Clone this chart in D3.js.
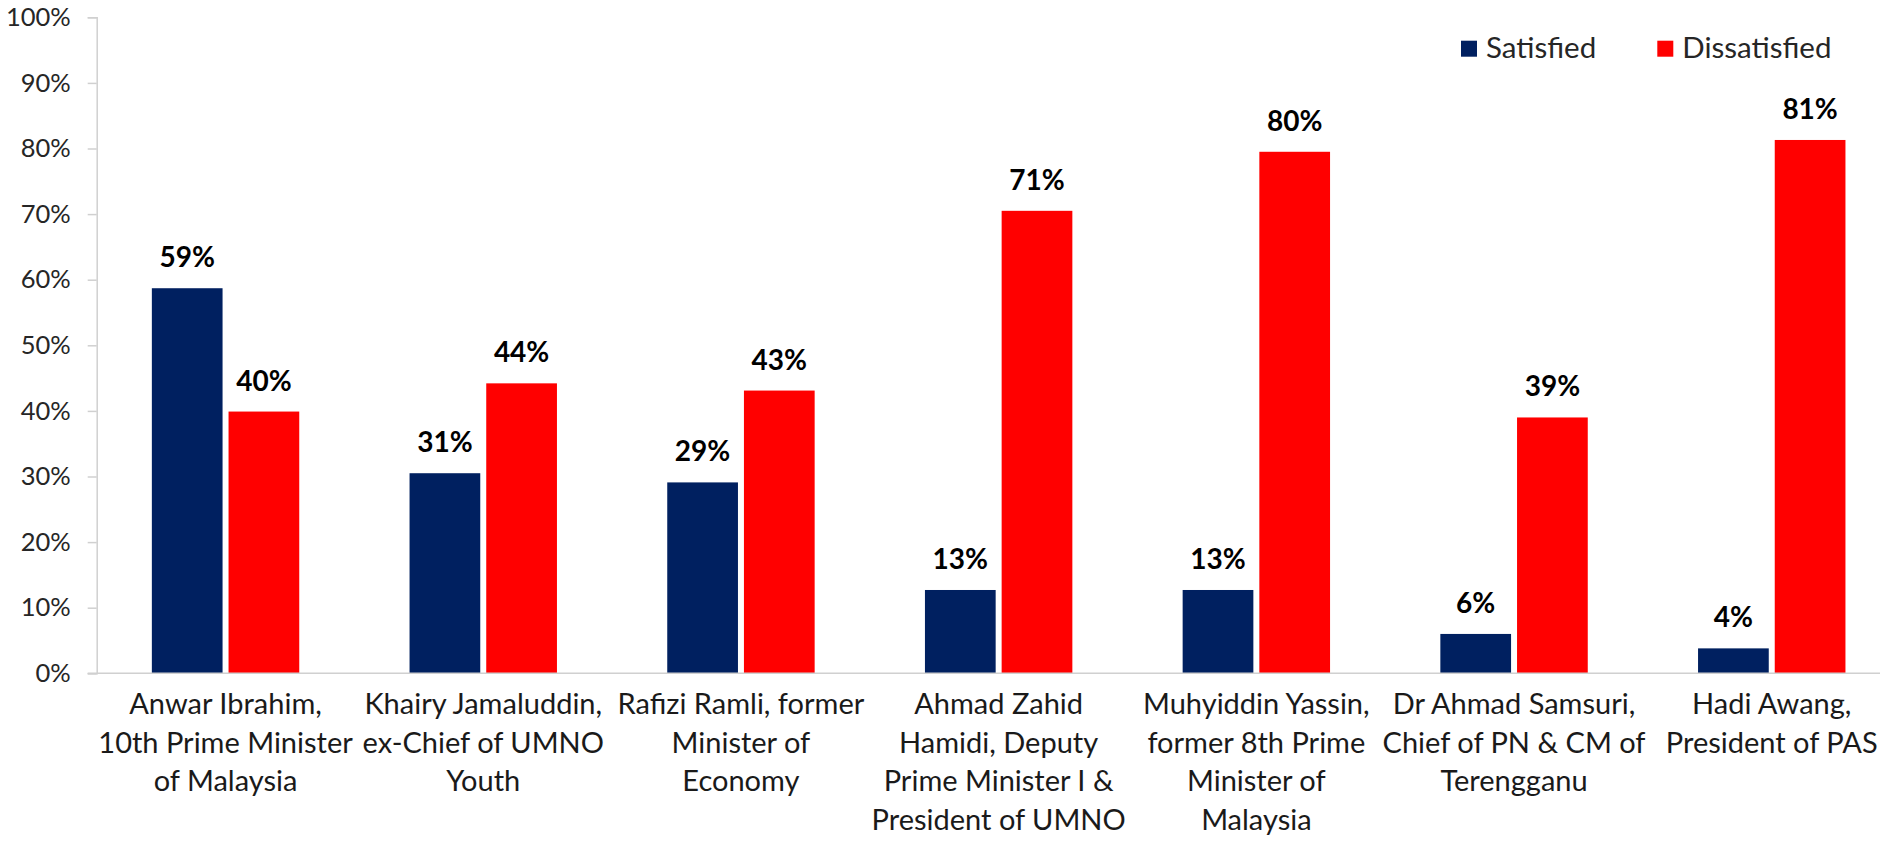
<!DOCTYPE html>
<html>
<head>
<meta charset="utf-8">
<script src="https://cdn.jsdelivr.net/npm/d3@7"></script>
<style>
  html, body { margin: 0; padding: 0; background: #ffffff; }
  svg { display: block; font-family: Lato, "Open Sans", sans-serif; }
</style>
</head>
<body>
<svg id="chart" width="1880" height="843"></svg>
<script>
// ---- data ----
const categories = [
  ["Anwar Ibrahim,", "10th Prime Minister", "of Malaysia"],
  ["Khairy Jamaluddin,", "ex-Chief of UMNO", "Youth"],
  ["Rafizi Ramli, former", "Minister of", "Economy"],
  ["Ahmad Zahid", "Hamidi, Deputy", "Prime Minister I &", "President of UMNO"],
  ["Muhyiddin Yassin,", "former 8th Prime", "Minister of", "Malaysia"],
  ["Dr Ahmad Samsuri,", "Chief of PN & CM of", "Terengganu"],
  ["Hadi Awang,", "President of PAS"]
];
const seriesNames = ["Satisfied", "Dissatisfied"];
const satisfied    = [58.7, 30.5, 29.1, 12.7, 12.7, 6.0, 3.8];
const dissatisfied = [39.9, 44.2, 43.1, 70.5, 79.5, 39.0, 81.3];
const yTicks = [0, 10, 20, 30, 40, 50, 60, 70, 80, 90, 100];
const colors = ["#002060", "#FF0000"];

// ---- layout ----
const svg = d3.select("#chart");
const plotLeft = 96.7, plotTop = 17.3, plotBottom = 673.3, plotRight = 1900.6;

const x0 = d3.scaleBand().domain(d3.range(categories.length))
  .range([plotLeft, plotRight]).paddingInner(0.428).paddingOuter(0.214);
const x1 = d3.scaleBand().domain(d3.range(seriesNames.length))
  .range([0, x0.bandwidth()]).paddingInner(0.078).paddingOuter(0);
const y = d3.scaleLinear().domain([0, 100]).range([plotBottom, plotTop]);

// y axis
const yAxis = svg.append("g").attr("transform", `translate(${plotLeft},0)`)
  .call(d3.axisLeft(y).tickValues(yTicks).tickFormat(d => d + "%").tickSize(9).tickPadding(17));
yAxis.select(".domain").attr("stroke", "#d0d0d0").attr("stroke-width", 1.5);
yAxis.selectAll(".tick line").attr("stroke", "#d0d0d0").attr("stroke-width", 1.5);
yAxis.selectAll(".tick text").attr("font-size", 25.5).attr("fill", "#262626")
  .attr("font-family", "Lato, sans-serif").attr("font-weight", 400);

// bars
const data = categories.map((c, i) => ({ i, vals: [satisfied[i], dissatisfied[i]] }));
const groups = svg.append("g").selectAll("g").data(data).join("g")
  .attr("transform", d => `translate(${x0(d.i)},0)`);
groups.selectAll("rect").data(d => d.vals.map((v, k) => ({ v, k }))).join("rect")
  .attr("x", d => x1(d.k)).attr("width", x1.bandwidth())
  .attr("y", d => y(d.v)).attr("height", d => y(0) - y(d.v))
  .attr("fill", d => colors[d.k]);
groups.selectAll("text.val").data(d => d.vals.map((v, k) => ({ v, k }))).join("text")
  .attr("class", "val")
  .attr("x", d => x1(d.k) + x1.bandwidth() / 2)
  .attr("y", d => y(d.v) - 21)
  .attr("text-anchor", "middle").attr("font-size", 28).attr("font-weight", 700)
  .attr("fill", "#000").text(d => Math.round(d.v) + "%");

// x axis baseline
svg.append("line").attr("x1", plotLeft - 9).attr("x2", 1880)
  .attr("y1", plotBottom).attr("y2", plotBottom).attr("stroke", "#d0d0d0").attr("stroke-width", 1.5);

// category labels
const labels = svg.append("g").selectAll("text").data(data).join("text")
  .attr("x", d => x0(d.i) + x0.bandwidth() / 2)
  .attr("y", 714)
  .attr("text-anchor", "middle").attr("font-size", 29).attr("font-weight", 400)
  .attr("fill", "#1a1a1a");
labels.selectAll("tspan").data(d => categories[d.i]).join("tspan")
  .attr("x", function() { return d3.select(this.parentNode).attr("x"); })
  .attr("dy", (d, j) => j === 0 ? 0 : 38.5)
  .text(d => d);

// legend
const legendX = [1461, 1657.3];
const lg = svg.append("g").selectAll("g").data(seriesNames).join("g")
  .attr("transform", (d, k) => `translate(${legendX[k]},40.7)`);
lg.append("rect").attr("width", 16).attr("height", 16).attr("fill", (d, k) => colors[k]);
lg.append("text").attr("x", 25).attr("y", 17.5).attr("font-size", 29.5).attr("font-weight", 400)
  .attr("fill", "#262626").text(d => d);
</script>
</body>
</html>
